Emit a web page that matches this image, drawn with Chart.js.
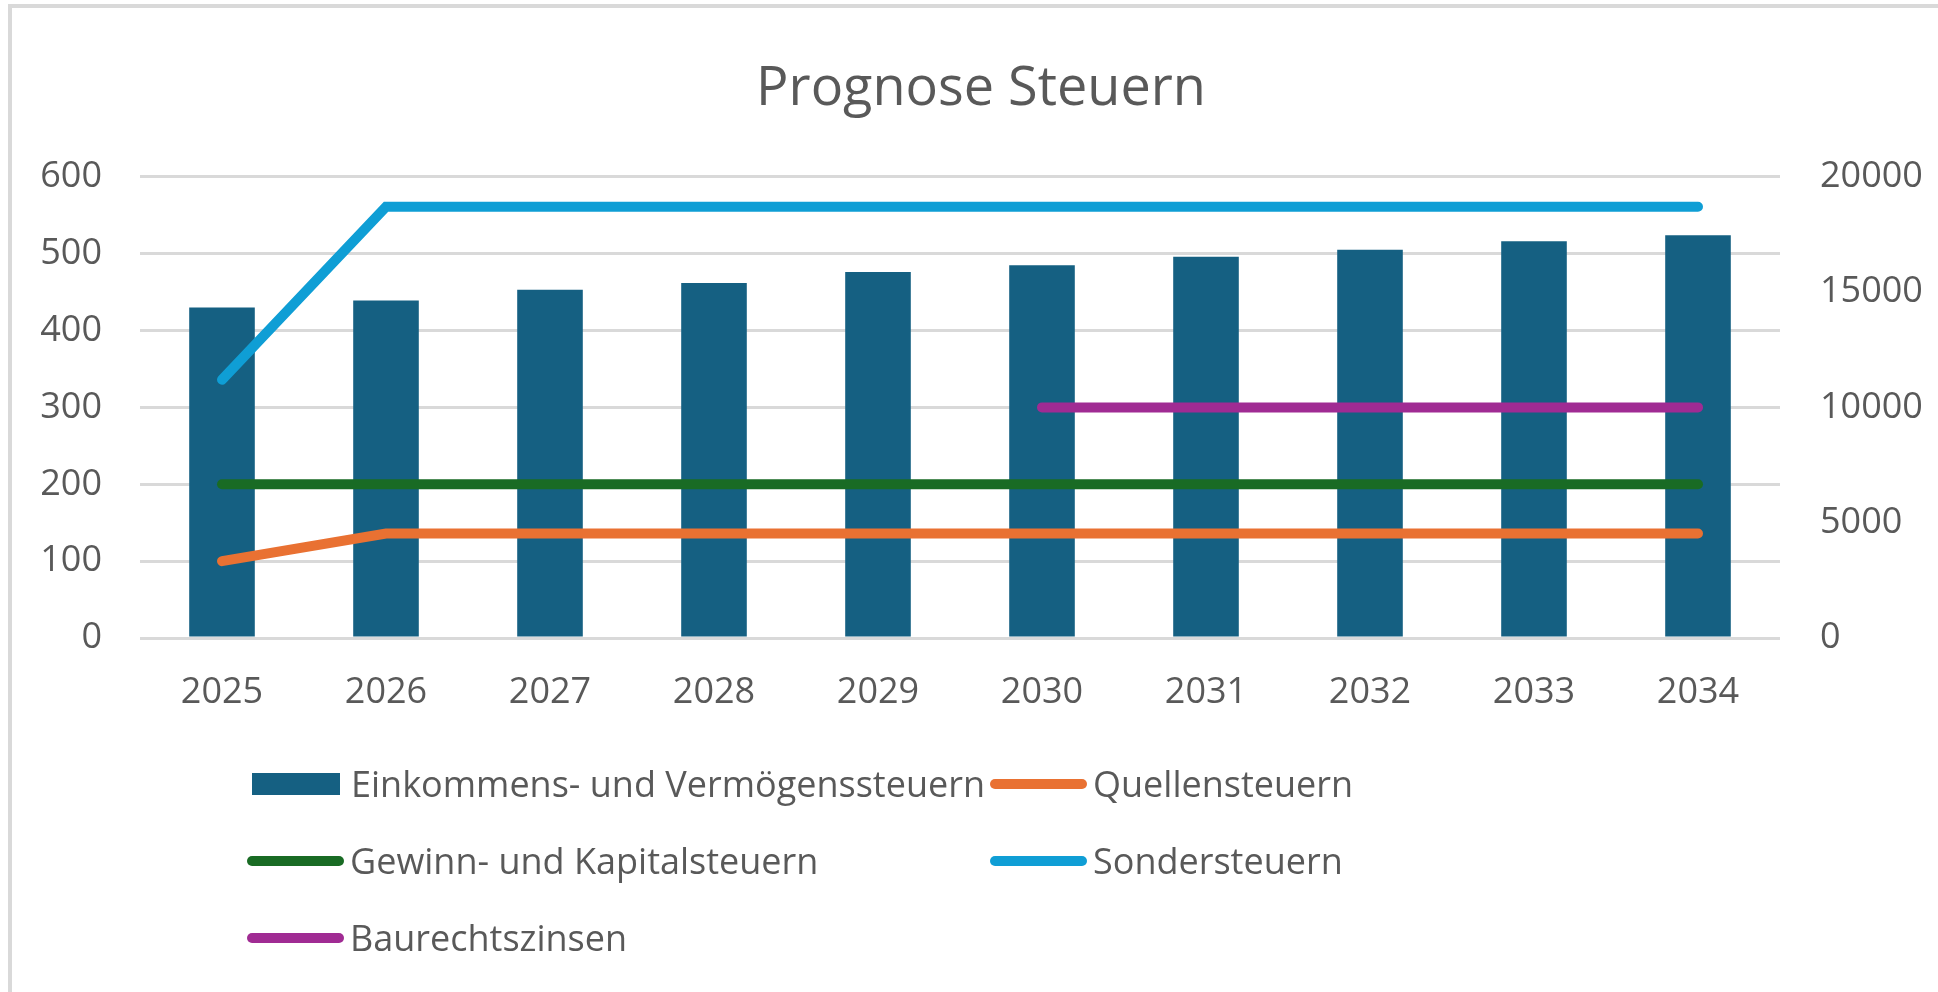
<!DOCTYPE html>
<html lang="de">
<head>
  <meta charset="UTF-8" />
  <title>Prognose Steuern</title>
  <script src="https://cdn.jsdelivr.net/npm/chart.js"></script>
  <style>
    body {
      margin: 0;
      background: #fff;
      font-family: 'Open Sans', sans-serif;
      overflow: hidden;
    }
    .frame {
      position: absolute;
      left: 8px;
      top: 4px;
      right: 0;
      bottom: 0;
      border-top: 4px solid #d9d9d9;
      border-left: 4px solid #d9d9d9;
      pointer-events: none;
    }
    .chart-container {
      position: absolute;
      left: 0;
      top: 0;
      width: 1938px;
      height: 992px;
    }
    #legend {
      position: absolute;
      left: 247px;
      top: 745px;
      display: grid;
      grid-template-columns: 743px auto;
      grid-auto-rows: 77px;
      font-size: 36px;
      color: #595959;
    }
    .item {
      display: flex;
      align-items: center;
      white-space: nowrap;
    }
    .swatch-line {
      width: 97px;
      height: 10px;
      border-radius: 5px;
      margin-right: 6px;
    }
    .swatch-bar {
      width: 88px;
      height: 22px;
      margin-left: 5px;
      margin-right: 11px;
    }
  </style>
</head>
<body>
  <div class="chart-container">
    <canvas id="steuernChart"></canvas>
  </div>
  <div id="legend"></div>
  <div class="frame"></div>

  <script>
    const jahre = ['2025', '2026', '2027', '2028', '2029', '2030', '2031', '2032', '2033', '2034'];

    const einkommen = [430, 439, 453, 462, 476, 485, 496, 505, 516, 524];
    const quellen = [100, 136, 136, 136, 136, 136, 136, 136, 136, 136];
    const gewinn = [200, 200, 200, 200, 200, 200, 200, 200, 200, 200];
    const sonder = [11200, 18700, 18700, 18700, 18700, 18700, 18700, 18700, 18700, 18700];
    const baurecht = [null, null, null, null, null, 300, 300, 300, 300, 300];

    const textFarbe = '#595959';
    const gitterFarbe = '#d9d9d9';

    function linie(label, data, farbe, achse) {
      return {
        type: 'line',
        label,
        data,
        yAxisID: achse,
        borderColor: farbe,
        backgroundColor: farbe,
        borderWidth: 10,
        borderCapStyle: 'round',
        pointRadius: 0,
        pointHoverRadius: 0,
        tension: 0,
        order: 0
      };
    }

    const chart = new Chart(document.getElementById('steuernChart'), {
      type: 'bar',
      data: {
        labels: jahre,
        datasets: [
          {
            label: 'Einkommens- und Vermögenssteuern',
            data: einkommen,
            backgroundColor: '#156082',
            yAxisID: 'y',
            categoryPercentage: 1,
            barPercentage: 0.4,
            order: 1
          },
          linie('Quellensteuern', quellen, '#E97132', 'y'),
          linie('Gewinn- und Kapitalsteuern', gewinn, '#196B24', 'y'),
          linie('Sondersteuern', sonder, '#0F9ED5', 'y1'),
          linie('Baurechtszinsen', baurecht, '#A02B93', 'y')
        ]
      },
      options: {
        responsive: true,
        maintainAspectRatio: false,
        animation: false,
        layout: {
          padding: { top: 0, left: 24, right: 0, bottom: 272 }
        },
        plugins: {
          legend: { display: false },
          tooltip: { enabled: false },
          title: {
            display: true,
            text: 'Prognose Steuern',
            color: textFarbe,
            font: { family: 'Open Sans', size: 54, weight: 'normal' },
            padding: { top: 57, bottom: 55 }
          }
        },
        scales: {
          x: {
            grid: { display: false },
            border: { display: false },
            ticks: {
              color: textFarbe,
              font: { family: 'Open Sans', size: 36 },
              padding: 25
            },
            afterFit: scale => { scale.height = 82; }
          },
          y: {
            position: 'left',
            min: 0,
            max: 600,
            ticks: {
              stepSize: 100,
              color: textFarbe,
              font: { family: 'Open Sans', size: 36 },
              padding: 38
            },
            grid: { color: gitterFarbe, lineWidth: 3, drawTicks: false },
            border: { display: false },
            afterFit: scale => { scale.width = 116; }
          },
          y1: {
            position: 'right',
            min: 0,
            max: 20000,
            ticks: {
              stepSize: 5000,
              color: textFarbe,
              font: { family: 'Open Sans', size: 36 },
              padding: 40,
              callback: value => String(value)
            },
            grid: { drawOnChartArea: false, drawTicks: false },
            border: { display: false },
            afterFit: scale => { scale.width = 158; }
          }
        }
      }
    });

    // Legende wie im Excel-Original: zwei Spalten
    const legend = document.getElementById('legend');
    legend.innerHTML = chart.data.datasets.map(ds => {
      const swatch = ds.type === 'line'
        ? `<span class="swatch-line" style="background:${ds.borderColor}"></span>`
        : `<span class="swatch-bar" style="background:${ds.backgroundColor}"></span>`;
      return `<div class="item">${swatch}<span>${ds.label}</span></div>`;
    }).join('');
  </script>
</body>
</html>
